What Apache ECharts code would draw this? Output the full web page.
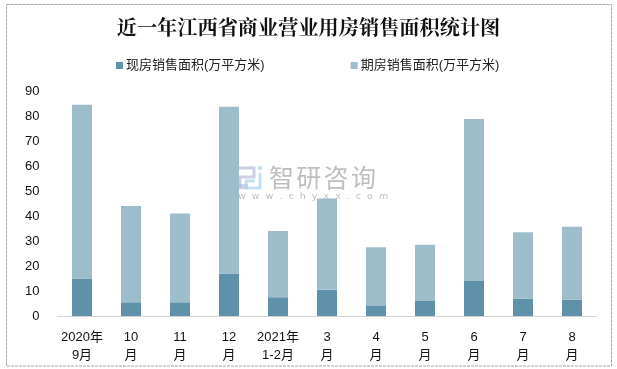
<!DOCTYPE html>
<html><head><meta charset="utf-8">
<style>html,body{margin:0;padding:0;background:#fff}#c{width:617px;height:369px}</style>
<script src="https://cdn.jsdelivr.net/npm/echarts@6/dist/echarts.min.js"></script></head>
<body><div id="c"></div>
<script>
const categories = ['2020年\n9月','10\n月','11\n月','12\n月','2021年\n1-2月','3\n月','4\n月','5\n月','6\n月','7\n月','8\n月'];
const spotName = '现房销售面积(万平方米)';
const futureName = '期房销售面积(万平方米)';
const spot = [15,5.5,5.5,17,7.5,10.5,4,6,14,7,6.5];
const future = [69.5,38.5,35.5,66.7,26.5,36.5,23.5,22.5,64.8,26.5,29.2];
const yTicks = {min:0,max:90,interval:10};
const font = '"Liberation Sans","Noto Sans CJK SC",sans-serif';
const wm = 'rgba(150,150,150,0.62)';
const wmChars = ['智','研','咨','询'];
const chart = echarts.init(document.getElementById('c'),null,{renderer:'canvas'});
chart.setOption({
  animation:false,
  title:{text:'近一年江西省商业营业用房销售面积统计图',left:'center',top:12.5,
    textStyle:{fontFamily:'"Noto Serif CJK SC","Noto Sans CJK SC",serif',fontSize:20.2,fontWeight:'bold',color:'#111'}},
  legend:{top:54,left:111,itemGap:86,itemWidth:7,itemHeight:7,icon:'rect',
    textStyle:{fontFamily:font,fontSize:13,color:'#222',padding:[0,0,0,-2]},
    data:[spotName,futureName]},
  grid:{left:57.5,right:20.5,top:91,height:225},
  xAxis:{type:'category',data:categories,
    axisLine:{lineStyle:{color:'#d4d4d4',width:1}},axisTick:{show:false},
    axisLabel:{fontFamily:font,fontSize:13,color:'#111',margin:13,lineHeight:17.5,interval:0}},
  yAxis:{type:'value',...yTicks,splitLine:{show:false},axisLine:{show:false},axisTick:{show:false},
    axisLabel:{fontFamily:font,fontSize:13,color:'#111',margin:18,padding:[3,0,0,0]}},
  series:[
    {name:spotName,type:'bar',stack:'a',barWidth:20,data:spot,itemStyle:{color:'#5f91a9'}},
    {name:futureName,type:'bar',stack:'a',barWidth:20,data:future,itemStyle:{color:'#9dbdcb'}}
  ],
  graphic:[
    {type:'rect',z:100,shape:{x:6.5,y:4.5,width:605,height:361.5},silent:true,style:{fill:'none',stroke:'#a4a4a4',lineWidth:1,lineDash:[3,1]}},
    ...wmChars.map((ch,i)=>({type:'text',z:50,x:269+27.3*i,y:165,silent:true,style:{text:ch,font:'25px "Noto Sans CJK SC"',fill:wm}})),
    {type:'text',z:50,x:238,y:192,silent:true,style:{text:'w  w  w  .  c  h  y  x  x  .  c  o  m',font:'9.5px "DejaVu Sans"',fill:wm}},
    {type:'polyline',z:50,silent:true,shape:{points:[[239,168],[254,168],[254,177],[240,177],[240,188]]},style:{fill:'none',stroke:'rgba(175,185,215,0.65)',lineWidth:3}},
    {type:'rect',z:50,silent:true,shape:{x:238,y:184,width:10,height:5},style:{fill:'rgba(175,185,215,0.65)'}},
    {type:'rect',z:50,silent:true,shape:{x:258,y:166,width:4,height:4},style:{fill:'rgba(170,210,235,0.7)'}},
    {type:'polyline',z:50,silent:true,shape:{points:[[260,173],[260,188],[246,188],[246,181],[255,181]]},style:{fill:'none',stroke:'rgba(170,210,235,0.7)',lineWidth:3}}
  ]
});
</script></body></html>
